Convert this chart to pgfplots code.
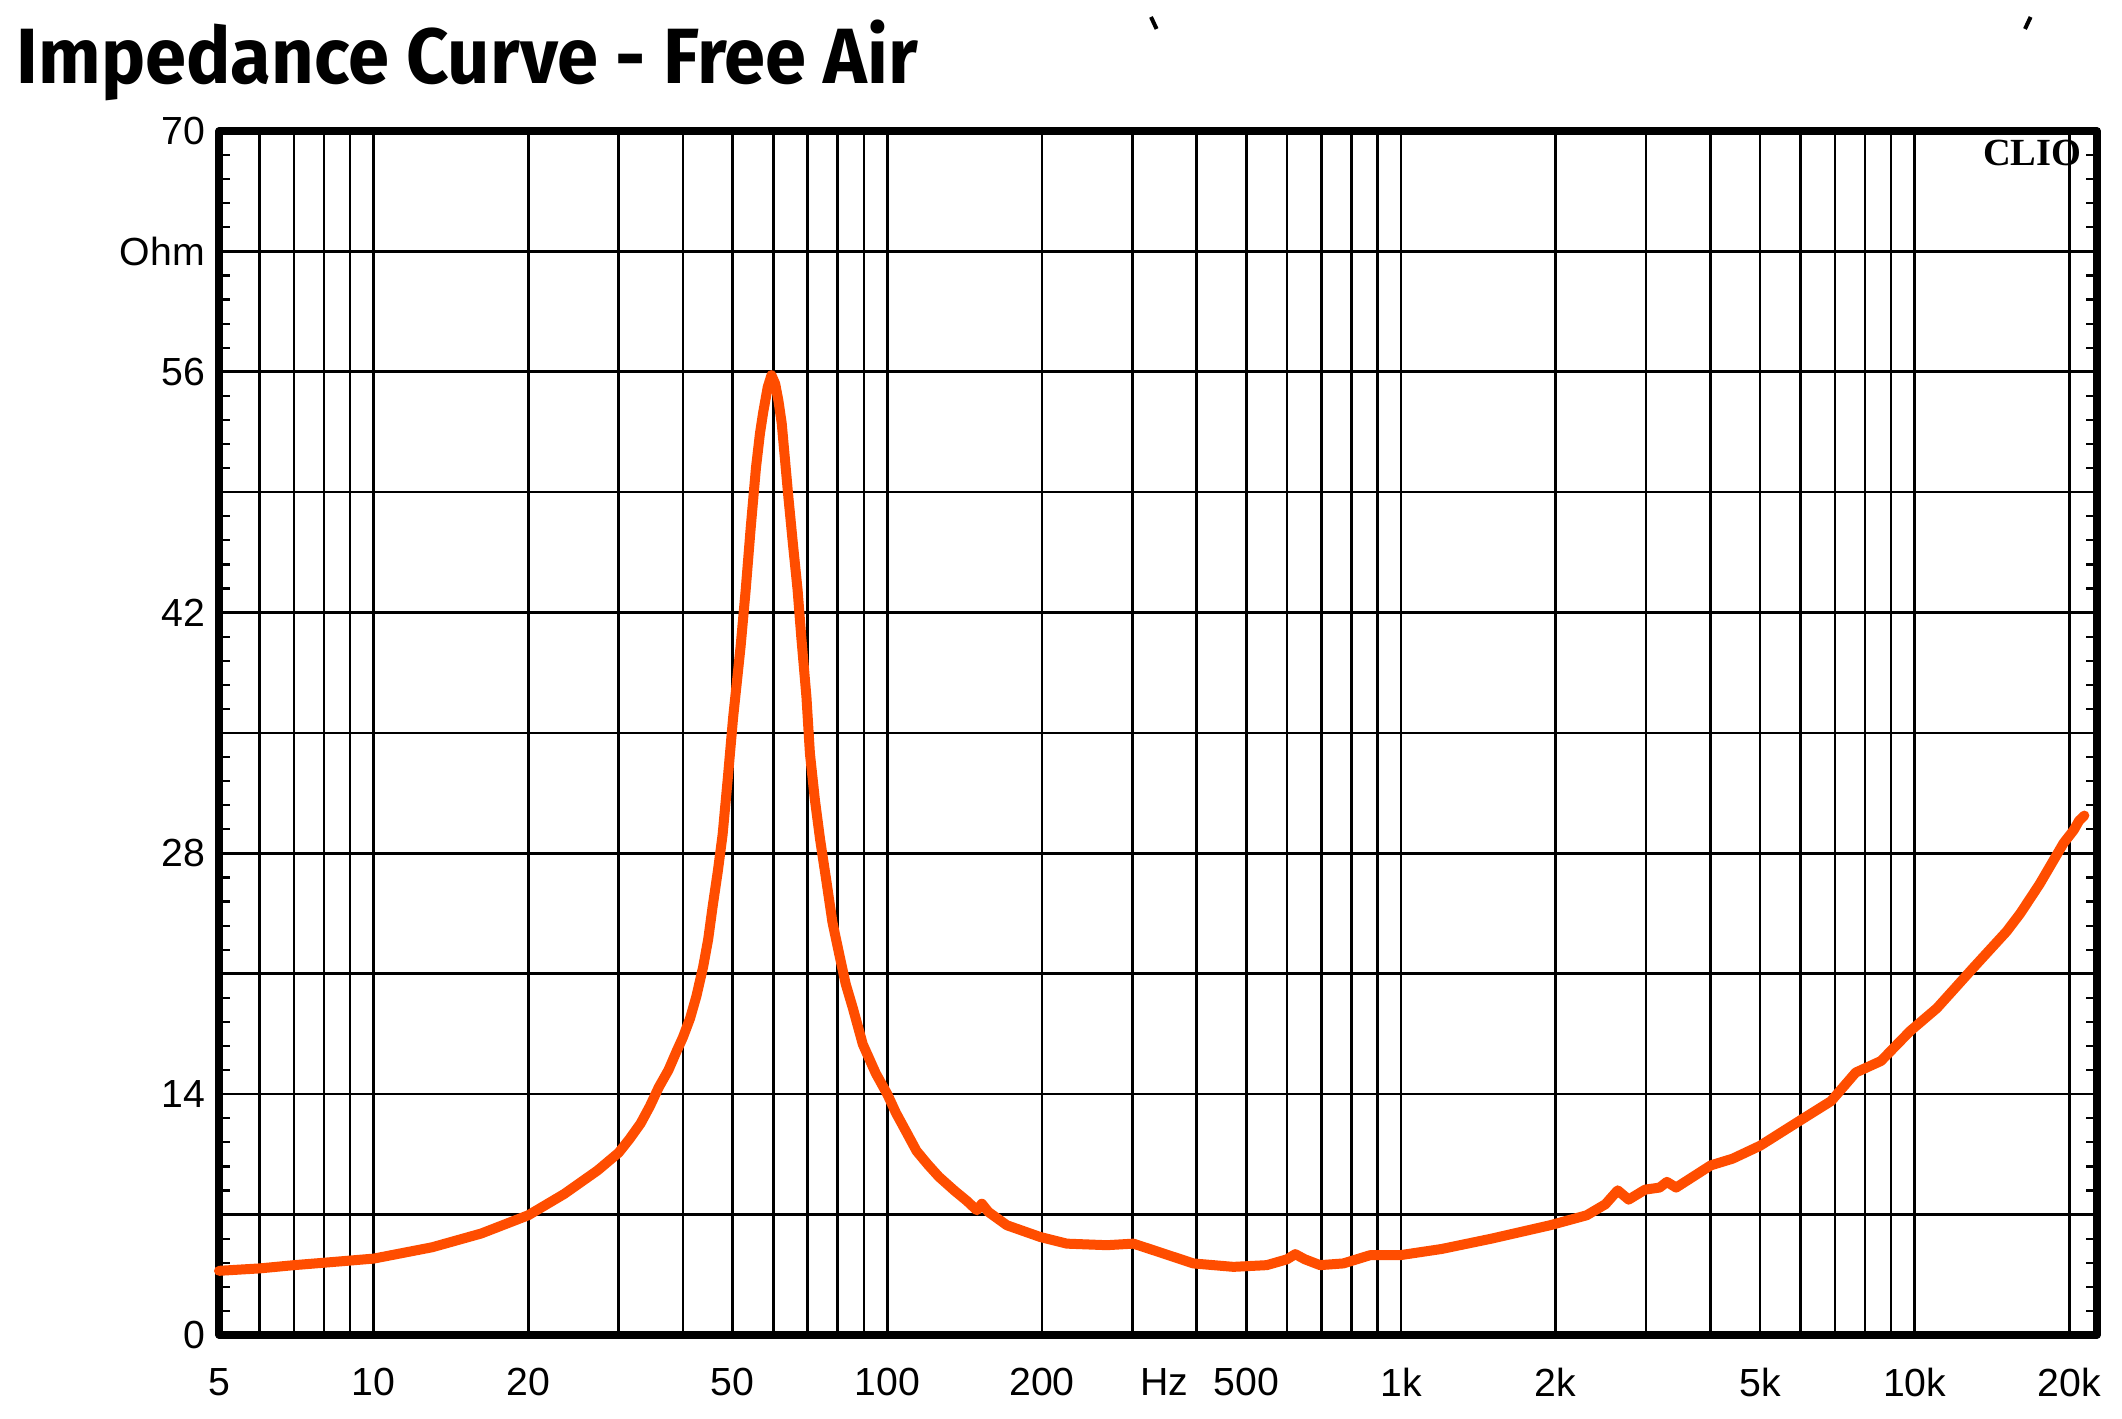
\documentclass[border=0pt]{standalone}
\usepackage{pgfplots}
\pgfplotsset{compat=1.18}
\usepackage{fontspec}
\setmainfont{Liberation Sans}
\newfontfamily\titlefont[FakeStretch=0.945]{Fira Sans}
\newfontfamily\cliofont{Liberation Serif}
\definecolor{curve}{RGB}{255,77,0}

% impedance magnitude, free air (Hz, Ohm)
\pgfplotstableread{
f Z
5 3.73
6 3.87
7 4.06
8 4.2
10 4.44
13 5.1
16.2 5.9
20 6.96
23.5 8.2
27.3 9.57
30 10.6
31.5 11.4
33.1 12.3
34.5 13.3
35.9 14.4
37.5 15.4
38.9 16.5
40 17.3
41.3 18.4
42.5 19.7
43.8 21.4
44.8 23.0
45.7 24.9
46.8 27.0
47.8 29.1
49.0 32.6
50.1 35.9
51.8 40.0
53.0 43.3
54.2 46.9
55.5 50.4
56.5 52.4
57.3 53.6
58.5 55.1
59.5 55.8
60.5 55.3
61.4 54.3
62.3 53.0
64.1 48.9
65.5 46.0
66.9 43.3
68.0 40.6
69.6 37.1
70.7 33.8
72.3 31.1
74.0 28.8
76.1 26.4
78.2 24.0
80.8 22.0
83 20.4
85.7 19.0
89.6 16.9
95 15.2
100 14.0
104 12.9
108.9 11.8
114 10.7
120 9.9
126 9.2
135 8.4
142.8 7.8
149.4 7.25
152.8 7.63
157.4 7.15
170.9 6.38
198.4 5.7
223.7 5.31
267.6 5.22
301.4 5.31
329.6 4.93
394.3 4.16
471.9 3.96
548 4.06
600 4.4
622.6 4.7
650 4.4
696 4.06
772.7 4.16
871 4.64
996.5 4.64
1200 5.0
1500 5.6
1952 6.38
2299 6.96
2500 7.6
2642 8.41
2775 7.87
2987 8.45
3188 8.57
3294 8.9
3433 8.57
4009 9.86
4422 10.25
5000 11.0
5984 12.47
6877 13.6
7680 15.26
8600 15.93
9800 17.67
11050 19.0
13000 21.34
15100 23.46
16050 24.5
17500 26.2
19500 28.6
20400 29.35
20900 29.9
21400 30.2
}\impedance

\begin{document}
\begin{tikzpicture}
\begin{axis}[
  at={(0pt,0pt)}, anchor=south west,
  scale only axis, width=469.5pt, height=301pt,
  xmode=log, xmin=5, xmax=22650,
  ymin=0, ymax=70,
  axis line style={line width=1.8pt, line join=round},
  xtick={5,6,7,8,9,10,20,30,40,50,60,70,80,90,100,200,300,400,500,600,700,800,900,1000,2000,3000,4000,5000,6000,7000,8000,9000,10000,20000},
  xticklabels={5,,,,,10,20,,,50,,,,,100,200,,,500,,,,,1k,2k,,,5k,,,,,10k,20k},
  extra x ticks={346},
  extra x tick labels={Hz},
  extra x tick style={grid=none},
  xminorticks=false,
  ytick={0,7,...,70},
  yticklabels={0,,14,,28,,42,,56,Ohm,70},
  minor y tick num=4,
  grid=major,
  grid style={black, line width=0.65pt},
  major tick length=0pt,
  minor tick length=2.8pt,
  tick align=inside,
  tick style={black, line width=0.55pt},
  tick label style={font=\fontsize{9.8}{11}\selectfont},
  xticklabel shift=4.8pt,
  yticklabel shift=0pt,
  clip=false,
]
\addplot[color=curve, line width=2.5pt, line join=round, line cap=round] table[x=f, y=Z] {\impedance};
\node[font=\cliofont\bfseries\fontsize{9.6}{11}\selectfont, inner sep=0pt] at (rel axis cs:0.9655,0.9817) {CLIO};
\end{axis}
\node[anchor=base west, inner sep=0pt, font=\titlefont\bfseries\fontsize{19.6}{22}\selectfont] at (-50.75pt,312.75pt) {Impedance Curve - Free Air};
\draw[line width=1pt] (233pt,329.5pt) -- (234.4pt,326.5pt);
\draw[line width=1pt] (452.9pt,329.5pt) -- (451.5pt,326.5pt);
\pgfresetboundingbox
\path[use as bounding box] (-54.75pt,-21pt) rectangle (475.75pt,333.75pt);
\end{tikzpicture}
\end{document}
